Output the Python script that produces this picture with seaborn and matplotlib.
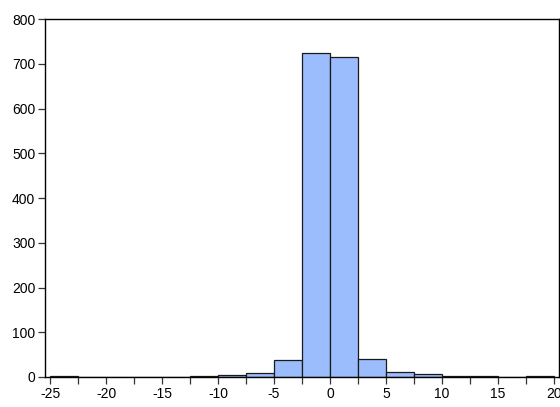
import numpy as np
import pandas as pd
import matplotlib
matplotlib.use("Agg")
import matplotlib.pyplot as plt
import seaborn as sns

# Histogram bins (width 2.5) and observation counts per bin
bin_edges = [-25, -22.5, -20, -17.5, -15, -12.5, -10, -7.5, -5, -2.5,
             0, 2.5, 5, 7.5, 10, 12.5, 15, 17.5, 20]
counts = [2, 0, 0, 0, 0, 2, 5, 8, 37, 725, 714, 40, 11, 6, 3, 2, 0, 2]
y_ticks = [0, 100, 200, 300, 400, 500, 600, 700, 800]
x_labels = [-25, -20, -15, -10, -5, 0, 5, 10, 15, 20]

sns.set_style("white")
plt.rcParams["font.family"] = ["Liberation Sans", "DejaVu Sans"]

edges = np.array(bin_edges, dtype=float)
df = pd.DataFrame({
    "value": (edges[:-1] + edges[1:]) / 2,
    "count": np.array(counts, dtype=float),
})

fig = plt.figure(figsize=(5.6, 4.07), dpi=100)
ax = fig.add_axes([45 / 560, 30 / 407, 514 / 560, 358 / 407])

sns.histplot(data=df, x="value", weights="count", bins=list(bin_edges), ax=ax,
             color="#9bbdfd", alpha=1.0, edgecolor="#1a1a1a", linewidth=0.9)

ax.set_xlim(-25.45, 20.45)
ax.set_ylim(0, 800)
ax.set_yticks(y_ticks)
ax.set_yticklabels([str(v) for v in y_ticks])
ax.set_xticks(edges)
ax.set_xticklabels([str(int(e)) if e in x_labels else "" for e in edges])
ax.set_xlabel("")
ax.set_ylabel("")

for s in ax.spines.values():
    s.set_visible(True)
    s.set_color("black")
    s.set_linewidth(1.0)

ax.tick_params(axis="both", direction="out", length=5, width=0.9,
               color="#333333", labelsize=10, pad=2, labelcolor="black")
ax.tick_params(axis="x", bottom=True, top=False)
ax.tick_params(axis="y", left=True, right=False)

fig.savefig("out.png", dpi=100, facecolor="white")
